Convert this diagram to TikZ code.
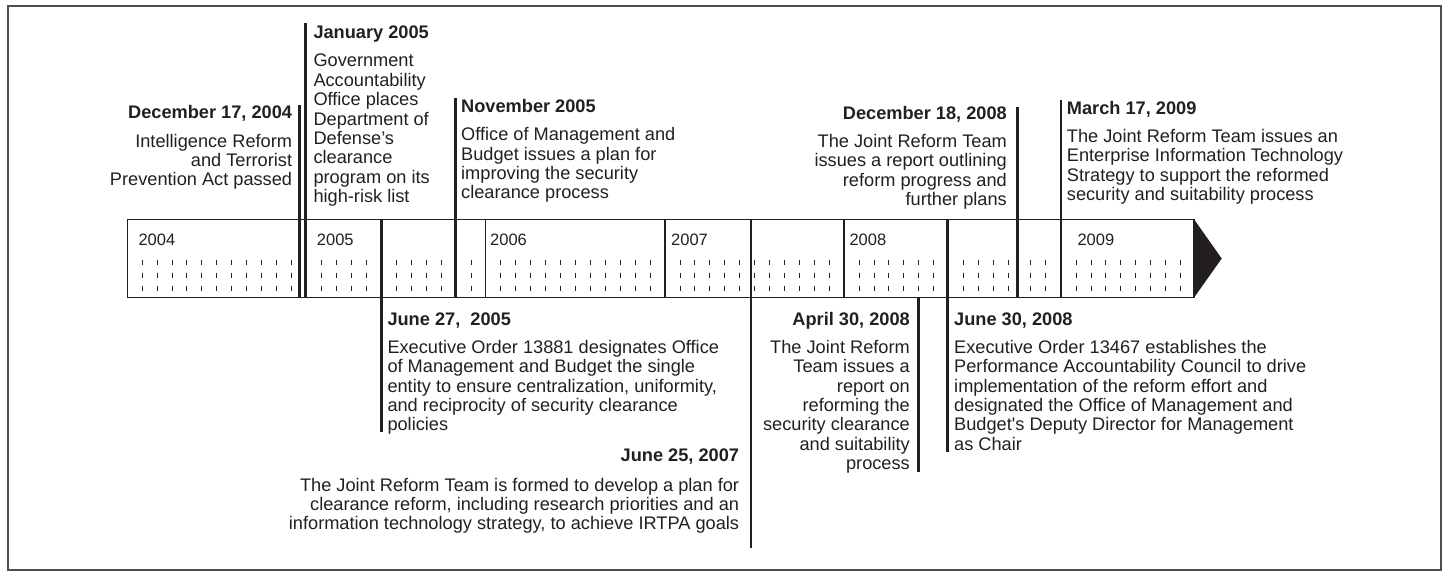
\documentclass[tikz,border=0pt]{standalone}
\usepackage{fontspec}
\setmainfont{Liberation Sans}
\definecolor{ink}{HTML}{231F20}
\newcommand{\bodyfont}{\fontsize{18.2}{19.4}\selectfont}
\newcommand{\yearfont}{\fontsize{16.5}{19}\selectfont}
\begin{document}
\begin{tikzpicture}[x=1pt,y=-1pt,
  evtext/.style={inner sep=0pt, text=ink, font=\bodyfont},
  yearlbl/.style={inner sep=0pt, text=ink, font=\yearfont, anchor=base west},
  evline/.style={draw=ink, line width=2.6pt},
  divline/.style={draw=ink, line width=1.4pt},
  barbox/.style={draw=ink, line width=1.5pt},
  tickmark/.style={draw=ink, line width=0.9pt},
  framebox/.style={draw=ink!80, line width=1.3pt}]
\useasboundingbox (0,0) rectangle (1449,576);
\draw[framebox] (8,6) rectangle (1441,570);

% timeline bar and arrow head
\coordinate (barNW) at (127.3,219.3);
\coordinate (barSE) at (1194,297.7);
\draw[barbox] (barNW) rectangle (barSE);
\coordinate (arrTop) at (1194,219.3);
\coordinate (arrTip) at (1221.7,258.5);
\coordinate (arrBot) at (1194,297.7);
\fill[ink] (arrTop) -- (arrTip) -- (arrBot) -- cycle;

% year dividers
\foreach \x in {485.3,665,844}
  \draw[divline] (\x,219.3) -- (\x,297.7);

% month ticks
\foreach \x in {142.3,157.2,172.1,186.9,201.8,216.7,231.6,246.5,261.3,276.2,291.1,
  321.2,336.2,351.2,366.2,396.2,411.2,426.2,441.2,471,
  500.7,515.6,530.6,545.5,560.4,575.4,590.3,605.2,620.1,635.1,650,
  680,694.8,709.7,724.5,739.3,754.5,769.4,784.3,799.2,814.1,829,
  859,874,888.9,903.8,918.6,933.5,963.3,978.3,993.3,1008.3,1030.7,1045.7,
  1076,1091,1105.9,1120.8,1135.8,1150.7,1165.7,1180.7}
  \foreach \y in {262.5,275.5,288.5}
    \draw[tickmark] (\x,\y-2.8) -- (\x,\y+2.8);

% year labels
\node[yearlbl] (y2004) at (138.3,245) {2004};
\node[yearlbl] (y2005) at (316.7,245) {2005};
\node[yearlbl] (y2006) at (490,245) {2006};
\node[yearlbl] (y2007) at (671,245) {2007};
\node[yearlbl] (y2008) at (849.3,245) {2008};
\node[yearlbl] (y2009) at (1077.3,245) {2009};

% event lines
\draw[evline] (299.3,105) -- (299.3,297.7);
\draw[evline] (305.7,23) -- (305.7,297.7);
\draw[evline] (455.5,98) -- (455.5,297.7);
\draw[evline] (1017.3,107) -- (1017.3,297.7);
\draw[evline] (1061,100) -- (1061,297.7);
\draw[evline] (381.7,219.3) -- (381.7,431.7);
\draw[evline] (751,219.3) -- (751,548);
\draw[evline] (918.5,297.7) -- (918.5,472);
\draw[evline] (947.7,219.3) -- (947.7,452);

% event texts above
\node[evtext, anchor=base east] (e1) at (292.3,118.7) {\begin{tabular}[t]{@{}r@{}}
\bfseries December 17, 2004\\[8.9pt]
Intelligence Reform\\ and Terrorist\\ Prevention Act passed\end{tabular}};
\node[evtext, anchor=base west] (e2) at (313.3,38.5) {\begin{tabular}[t]{@{}l@{}}
\bfseries January 2005\\[8.9pt]
Government\\ Accountability\\ Office places\\ Department of\\ Defense's\\ clearance\\ program on its\\ high-risk list\end{tabular}};
\node[evtext, anchor=base west] (e3) at (461,112.3) {\begin{tabular}[t]{@{}l@{}}
\bfseries November 2005\\[8.9pt]
Office of Management and\\ Budget issues a plan for\\ improving the security\\ clearance process\end{tabular}};
\node[evtext, anchor=base east] (e4) at (1007,119) {\begin{tabular}[t]{@{}r@{}}
\bfseries December 18, 2008\\[8.9pt]
The Joint Reform Team\\ issues a report outlining\\ reform progress and\\ further plans\end{tabular}};
\node[evtext, anchor=base west] (e5) at (1066.7,114) {\begin{tabular}[t]{@{}l@{}}
\bfseries March 17, 2009\\[8.9pt]
The Joint Reform Team issues an\\ Enterprise Information Technology\\ Strategy to support the reformed\\ security and suitability process\end{tabular}};

% event texts below
\node[evtext, anchor=base west] (e6) at (387.3,325) {\begin{tabular}[t]{@{}l@{}}
\bfseries June 27,\ \ 2005\\[8.9pt]
Executive Order 13881 designates Office\\ of Management and Budget the single\\ entity to ensure centralization, uniformity,\\ and reciprocity of security clearance\\ policies\end{tabular}};
\node[evtext, anchor=base east] (e7) at (739.3,461.7) {\begin{tabular}[t]{@{}r@{}}
\bfseries June 25, 2007\\[10pt]
The Joint Reform Team is formed to develop a plan for\\ clearance reform, including research priorities and an\\ information technology strategy, to achieve IRTPA goals\end{tabular}};
\node[evtext, anchor=base east] (e8) at (910,325) {\begin{tabular}[t]{@{}r@{}}
\bfseries April 30, 2008\\[8.9pt]
The Joint Reform\\ Team issues a\\ report on\\ reforming the\\ security clearance\\ and suitability\\ process\end{tabular}};
\node[evtext, anchor=base west] (e9) at (954,325) {\begin{tabular}[t]{@{}l@{}}
\bfseries June 30, 2008\\[8.9pt]
Executive Order 13467 establishes the\\ Performance Accountability Council to drive\\ implementation of the reform effort and\\ designated the Office of Management and\\ Budget\textquotesingle s Deputy Director for Management\\ as Chair\end{tabular}};
\end{tikzpicture}
\end{document}
